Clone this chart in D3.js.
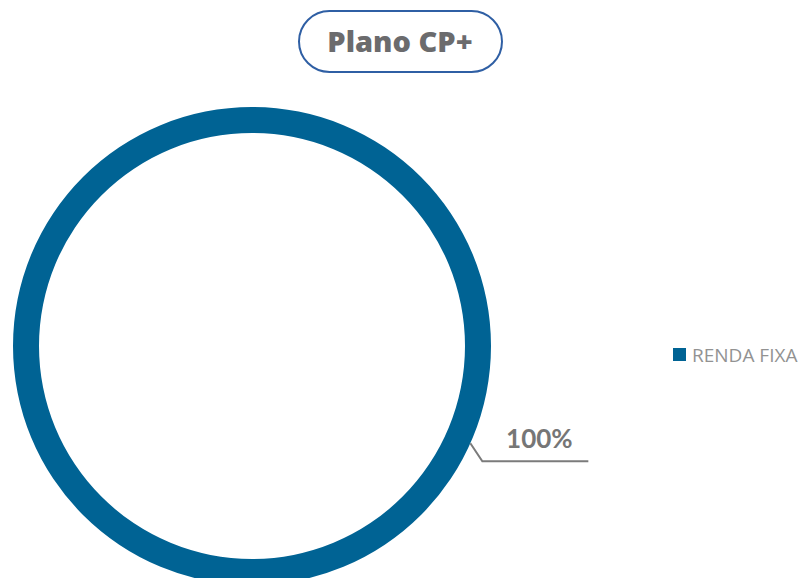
<!DOCTYPE html>
<html>
<head>
<meta charset="utf-8">
<script src="https://cdn.jsdelivr.net/npm/d3@7"></script>
<style>
  body { margin: 0; background: #fff; }
  svg { display: block; }
</style>
</head>
<body>
<div id="chart"></div>
<script>
const title = "Plano CP+";
const categories = ["RENDA FIXA"];
const values = [100];
const colors = ["#006394"];

const width = 804, height = 578;
const center = {x: 252, y: 346};
const outerR = 239, innerR = 213;

const svg = d3.select("#chart")
  .append("svg")
  .attr("width", width)
  .attr("height", height)
  .attr("viewBox", `0 0 ${width} ${height}`);

// title pill
svg.append("rect")
  .attr("x", 299).attr("y", 11)
  .attr("width", 203).attr("height", 61)
  .attr("rx", 30.5)
  .attr("fill", "#fff")
  .attr("stroke", "#2f5fa4")
  .attr("stroke-width", 2);

svg.append("text")
  .attr("x", 400).attr("y", 52)
  .attr("text-anchor", "middle")
  .style("font-family", "'Open Sans', sans-serif")
  .style("font-weight", 800)
  .style("font-size", "29px")
  .style("fill", "#6b6b6d")
  .text(title);

const total = d3.sum(values);
const pie = d3.pie().sort(null).value(d => d);
const arc = d3.arc().innerRadius(innerR).outerRadius(outerR);

const g = svg.append("g")
  .attr("transform", `translate(${center.x},${center.y})`);

g.selectAll("path.slice")
  .data(pie(values))
  .enter()
  .append("path")
  .attr("class", "slice")
  .attr("d", arc)
  .attr("fill", (d, i) => colors[i]);

// data label with leader line (label was moved off the slice in the original)
const labelAngle = 114 * Math.PI / 180;
const start = [Math.sin(labelAngle) * outerR, -Math.cos(labelAngle) * outerR];
const elbow = [start[0] + 12, start[1] + 18];
const end = [elbow[0] + 106, elbow[1]];

g.append("polyline")
  .attr("points", [start, elbow, end].map(p => p.join(",")).join(" "))
  .attr("fill", "none")
  .attr("stroke", "#7b7b7b")
  .attr("stroke-width", 2);

g.selectAll("text.label")
  .data(values)
  .enter()
  .append("text")
  .attr("class", "label")
  .attr("x", elbow[0] + 57)
  .attr("y", elbow[1] - 13)
  .attr("text-anchor", "middle")
  .style("font-family", "Lato, 'Open Sans', sans-serif")
  .style("font-weight", 700)
  .style("font-size", "26px")
  .style("fill", "#767676")
  .text(d => Math.round(d / total * 100) + "%");

// legend
const legend = svg.append("g")
  .attr("transform", "translate(673,348)");

const items = legend.selectAll("g.item")
  .data(categories)
  .enter()
  .append("g")
  .attr("class", "item");

items.append("rect")
  .attr("width", 13).attr("height", 13)
  .attr("fill", (d, i) => colors[i]);

items.append("text")
  .attr("x", 19).attr("y", 13.5)
  .style("font-family", "'Open Sans', sans-serif")
  .style("font-size", "19px")
  .style("fill", "#929292")
  .text(d => d);
</script>
</body>
</html>
